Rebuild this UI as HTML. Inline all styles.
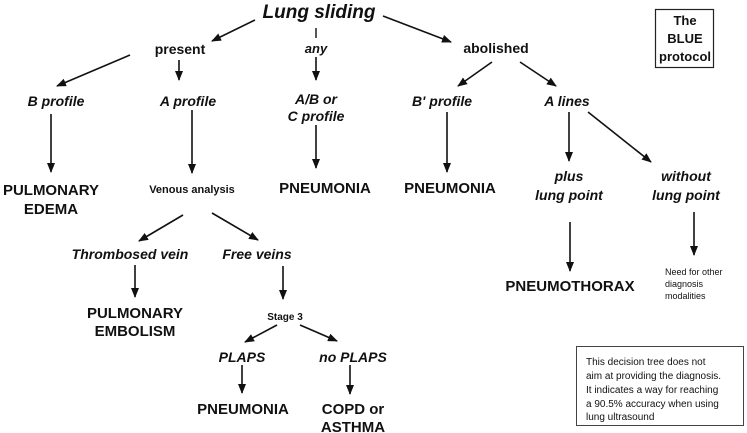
<!DOCTYPE html>
<html><head><meta charset="utf-8"><style>
html,body{margin:0;padding:0;background:#fff;width:747px;height:433px;overflow:hidden}
svg{display:block}
text{font-family:"Liberation Sans",Arial,sans-serif;fill:#111;font-weight:bold}
.i{font-style:italic}
.n{font-weight:normal}
</style></head><body>
<svg width="747" height="433" viewBox="0 0 747 433">
<defs><marker id="a" markerWidth="10" markerHeight="8" refX="9" refY="4" orient="auto" markerUnits="userSpaceOnUse"><path d="M0,0 L10,4 L0,8 Z" fill="#111"/></marker></defs>
<g stroke="#111" stroke-width="1.6" fill="none" marker-end="url(#a)">
<line x1="255" y1="20" x2="212" y2="41"/>
<line x1="316" y1="57" x2="316" y2="80"/>
<line x1="383" y1="16" x2="451" y2="42"/>
<line x1="130" y1="55" x2="57" y2="86"/>
<line x1="179" y1="60" x2="179" y2="80"/>
<line x1="316" y1="125" x2="316" y2="168"/>
<line x1="51" y1="114" x2="51" y2="172"/>
<line x1="192" y1="110" x2="192" y2="173"/>
<line x1="183" y1="215" x2="139" y2="241"/>
<line x1="212" y1="213" x2="258" y2="240"/>
<line x1="492" y1="62" x2="458" y2="86"/>
<line x1="520" y1="62" x2="556" y2="86"/>
<line x1="447" y1="112" x2="447" y2="172"/>
<line x1="569" y1="112" x2="569" y2="161"/>
<line x1="588" y1="112" x2="651" y2="162"/>
<line x1="570" y1="222" x2="570" y2="271"/>
<line x1="694" y1="212" x2="694" y2="255"/>
<line x1="135" y1="265" x2="135" y2="297"/>
<line x1="283" y1="266" x2="283" y2="299"/>
<line x1="277" y1="325" x2="245" y2="342"/>
<line x1="300" y1="325" x2="337" y2="341"/>
<line x1="242" y1="365" x2="242" y2="393"/>
<line x1="350" y1="365" x2="350" y2="394"/>
</g>
<line x1="316" y1="28" x2="316" y2="38" stroke="#111" stroke-width="1.4"/>
<rect x="655.5" y="9.5" width="58" height="58" fill="none" stroke="#222" stroke-width="1.2"/>
<rect x="576.5" y="346.5" width="167" height="79" fill="none" stroke="#444" stroke-width="1"/>
<g text-anchor="middle">
<text x="319" y="18" font-size="19" class="i">Lung sliding</text>
<text x="180" y="54" font-size="14">present</text>
<text x="316" y="53" font-size="13" class="i">any</text>
<text x="496" y="53" font-size="14">abolished</text>
<text x="56" y="106" font-size="14" class="i">B profile</text>
<text x="188" y="106" font-size="14" class="i">A profile</text>
<text x="316" y="104" font-size="14" class="i">A/B or</text>
<text x="316" y="121" font-size="14" class="i">C profile</text>
<text x="442" y="106" font-size="14" class="i">B' profile</text>
<text x="567" y="106" font-size="14" class="i">A lines</text>
<text x="51" y="195" font-size="15">PULMONARY</text>
<text x="51" y="214" font-size="15">EDEMA</text>
<text x="192" y="193" font-size="11">Venous analysis</text>
<text x="325" y="193" font-size="15">PNEUMONIA</text>
<text x="450" y="193" font-size="15">PNEUMONIA</text>
<text x="569" y="181" font-size="14" class="i">plus</text>
<text x="569" y="200" font-size="14" class="i">lung point</text>
<text x="686" y="181" font-size="14" class="i">without</text>
<text x="686" y="200" font-size="14" class="i">lung point</text>
<text x="130" y="259" font-size="14" class="i">Thrombosed vein</text>
<text x="257" y="259" font-size="14" class="i">Free veins</text>
<text x="135" y="318" font-size="15">PULMONARY</text>
<text x="135" y="336" font-size="15">EMBOLISM</text>
<text x="285" y="320" font-size="10">Stage 3</text>
<text x="242" y="362" font-size="14" class="i">PLAPS</text>
<text x="353" y="362" font-size="14" class="i">no PLAPS</text>
<text x="243" y="414" font-size="15">PNEUMONIA</text>
<text x="353" y="414" font-size="15">COPD or</text>
<text x="353" y="432" font-size="15">ASTHMA</text>
<text x="570" y="291" font-size="15">PNEUMOTHORAX</text>
<text x="685" y="25" font-size="13">The</text>
<text x="685" y="43" font-size="13">BLUE</text>
<text x="685" y="61" font-size="13">protocol</text>
</g>
<g font-size="9">
<text x="665" y="275" class="n">Need for other</text>
<text x="665" y="287" class="n">diagnosis</text>
<text x="665" y="299" class="n">modalities</text>
</g>
<g font-size="10">
<text x="586" y="365" class="n">This decision tree does not</text>
<text x="586" y="379" class="n">aim at providing the diagnosis.</text>
<text x="586" y="393" class="n">It indicates a way for reaching</text>
<text x="586" y="407" class="n">a 90.5% accuracy when using</text>
<text x="586" y="420" class="n">lung ultrasound</text>
</g>
</svg>
</body></html>
